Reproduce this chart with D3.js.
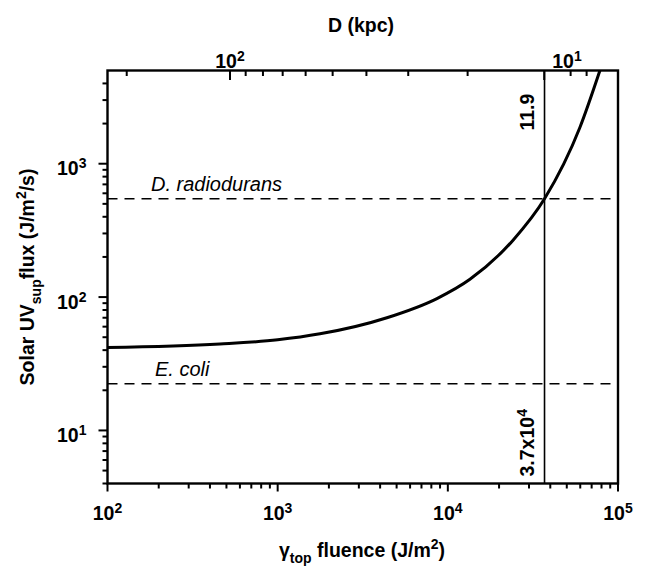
<!DOCTYPE html>
<html>
<head>
<meta charset="utf-8">
<script src="https://cdn.jsdelivr.net/npm/d3@7"></script>
<style>
  body { margin: 0; background: #fff; }
  svg { display: block; font-family: "Liberation Sans", Arial, Helvetica, sans-serif; }
</style>
</head>
<body>
<svg id="chart" width="648" height="568"></svg>
<script>
{
  // curve: gamma fluence (J/m2) vs solar UV flux (J/m2/s)
  const fluence = [100, 458, 1000, 1773, 4385, 8630, 13490, 24100, 37000, 59700, 78300];
  const uvFlux = [41.9, 44.5, 47.8, 53, 70, 97.5, 136, 266, 546, 1871, 5007];

  const thresholdNames = ['D. radiodurans', 'E. coli'];
  const thresholdFlux = [546, 22.4];
  const thresholdLabelFluence = [180, 190];

  const criticalFluence = 3.7e4;
  const criticalDistance = '11.9';

  // top axis: distance ticks (kpc) and the fluence they sit at
  const distanceTicks = [200, 100, 90, 80, 70, 60, 50, 40, 30, 20, 10, 9, 8];
  const distanceTickFluence = [129.7, 524.5, 648.6, 819.5, 1070, 1460, 2104, 3323, 5852, 13070, 36850, 52670, 65390];
  const distanceLabelExp = [2, 1];
  const distanceLabelFluence = [524.5, 50100];

  const BLACK = '#000';
  const FONT = 19.5;
  const SUP = 14;

  const svg = d3.select('#chart');
  const plot = {left: 107.5, right: 618, top: 70.5, bottom: 483.5};

  const x = d3.scaleLog().domain([1e2, 1e5]).range([plot.left, plot.right]);
  const y = d3.scaleLog().domain([4, 5000]).range([plot.bottom, plot.top]);
  const dScale = d3.scaleLog().domain(distanceTicks).range(distanceTickFluence.map((f) => x(f)));

  const isDecade = (d) => Math.abs(Math.log10(d) - Math.round(Math.log10(d))) < 1e-9;

  drawAxes();
  drawThresholds();
  drawCurve();
  drawCritical();
  drawTitles();

  function drawAxes() {
    const xTicks = x.ticks();
    const yTicks = y.ticks().filter((d) => d < 5000);

    svg.append('rect')
      .attr('x', plot.left)
      .attr('y', plot.top)
      .attr('width', plot.right - plot.left)
      .attr('height', plot.bottom - plot.top)
      .attr('fill', 'none')
      .attr('stroke', BLACK)
      .attr('stroke-width', 2.4);

    // bottom and left ticks point out, top ticks point in
    vTicks(xTicks.filter((d) => !isDecade(d)).map((d) => x(d)), plot.bottom, plot.bottom + 5);
    vTicks(xTicks.filter(isDecade).map((d) => x(d)), plot.bottom, plot.bottom + 8);
    hTicks(yTicks.filter((d) => !isDecade(d)).map((d) => y(d)), plot.left - 5, plot.left);
    hTicks(yTicks.filter(isDecade).map((d) => y(d)), plot.left - 9, plot.left);
    vTicks(distanceTicks.filter((d) => !isDecade(d)).map((d) => dScale(d)), plot.top, plot.top + 5.5);
    vTicks(distanceTicks.filter(isDecade).map((d) => dScale(d)), plot.top, plot.top + 9.5);

    // power-of-ten labels
    xTicks.filter(isDecade).forEach((d) => {
      powerLabel(x(d), 520, Math.round(Math.log10(d)), 'middle');
    });
    yTicks.filter(isDecade).forEach((d) => {
      powerLabel(plot.left - 21, y(d) + 11.5, Math.round(Math.log10(d)), 'end');
    });
    distanceLabelExp.forEach((e, i) => {
      powerLabel(x(distanceLabelFluence[i]), 68, e, 'middle');
    });
  }

  function vTicks(xs, y1, y2) {
    svg.append('g')
      .selectAll('line')
      .data(xs)
      .join('line')
        .attr('x1', (d) => d)
        .attr('x2', (d) => d)
        .attr('y1', y1)
        .attr('y2', y2)
        .attr('stroke', BLACK)
        .attr('stroke-width', 2);
  }

  function hTicks(ys, x1, x2) {
    svg.append('g')
      .selectAll('line')
      .data(ys)
      .join('line')
        .attr('x1', x1)
        .attr('x2', x2)
        .attr('y1', (d) => d)
        .attr('y2', (d) => d)
        .attr('stroke', BLACK)
        .attr('stroke-width', 2);
  }

  function powerLabel(px, py, exp, anchor) {
    const t = svg.append('text')
      .attr('x', px)
      .attr('y', py)
      .attr('text-anchor', anchor)
      .attr('font-weight', 'bold')
      .attr('font-size', FONT)
      .attr('fill', BLACK);
    t.append('tspan').text('10');
    t.append('tspan').attr('dy', -7).attr('font-size', SUP).text(exp);
  }

  function drawThresholds() {
    thresholdFlux.forEach((v, i) => {
      svg.append('line')
        .attr('x1', plot.left)
        .attr('x2', plot.right)
        .attr('y1', y(v))
        .attr('y2', y(v))
        .attr('stroke', BLACK)
        .attr('stroke-width', 1.6)
        .attr('stroke-dasharray', '10,7');

      svg.append('text')
        .attr('x', x(thresholdLabelFluence[i]))
        .attr('y', y(v) - 7.5)
        .attr('font-style', 'italic')
        .attr('font-size', 20)
        .attr('fill', BLACK)
        .text(thresholdNames[i]);
    });
  }

  function drawCurve() {
    svg.append('clipPath')
      .attr('id', 'plot-clip')
      .append('rect')
        .attr('x', plot.left)
        .attr('y', plot.top)
        .attr('width', plot.right - plot.left)
        .attr('height', plot.bottom - plot.top);

    const line = d3.line()
      .x((d) => x(d[0]))
      .y((d) => y(d[1]))
      .curve(d3.curveMonotoneX);

    svg.append('path')
      .attr('clip-path', 'url(#plot-clip)')
      .attr('d', line(d3.zip(fluence, uvFlux)))
      .attr('fill', 'none')
      .attr('stroke', BLACK)
      .attr('stroke-width', 3);
  }

  function drawCritical() {
    const cx = x(criticalFluence);

    svg.append('line')
      .attr('x1', cx)
      .attr('x2', cx)
      .attr('y1', plot.top)
      .attr('y2', plot.bottom)
      .attr('stroke', BLACK)
      .attr('stroke-width', 1.6);

    svg.append('text')
      .attr('transform', `translate(${cx - 11},${plot.top + 60}) rotate(-90)`)
      .attr('font-weight', 'bold')
      .attr('font-size', FONT)
      .attr('fill', BLACK)
      .text(criticalDistance);

    const t = svg.append('text')
      .attr('transform', `translate(${cx - 11},${plot.bottom - 7}) rotate(-90)`)
      .attr('font-weight', 'bold')
      .attr('font-size', FONT)
      .attr('fill', BLACK);
    t.append('tspan').text('3.7x10');
    t.append('tspan').attr('dy', -7).attr('font-size', SUP).text('4');
  }

  function drawTitles() {
    svg.append('text')
      .attr('x', 361)
      .attr('y', 32)
      .attr('text-anchor', 'middle')
      .attr('font-weight', 'bold')
      .attr('font-size', FONT)
      .text('D (kpc)');

    const xt = svg.append('text')
      .attr('x', 362)
      .attr('y', 557)
      .attr('text-anchor', 'middle')
      .attr('font-weight', 'bold')
      .attr('font-size', FONT);
    xt.append('tspan').text('γ');
    xt.append('tspan').attr('dy', 6).attr('font-size', SUP).text('top');
    xt.append('tspan').attr('dy', -6).text(' fluence (J/m');
    xt.append('tspan').attr('dy', -8).attr('font-size', SUP).text('2');
    xt.append('tspan').attr('dy', 8).text(')');

    const yt = svg.append('text')
      .attr('transform', 'translate(34,277) rotate(-90)')
      .attr('text-anchor', 'middle')
      .attr('font-weight', 'bold')
      .attr('font-size', FONT);
    yt.append('tspan').text('Solar UV');
    yt.append('tspan').attr('dy', 7).attr('font-size', SUP).text('sup');
    yt.append('tspan').attr('dy', -7).text('flux (J/m');
    yt.append('tspan').attr('dy', -8).attr('font-size', SUP).text('2');
    yt.append('tspan').attr('dy', 8).text('/s)');
  }
}
</script>
</body>
</html>
